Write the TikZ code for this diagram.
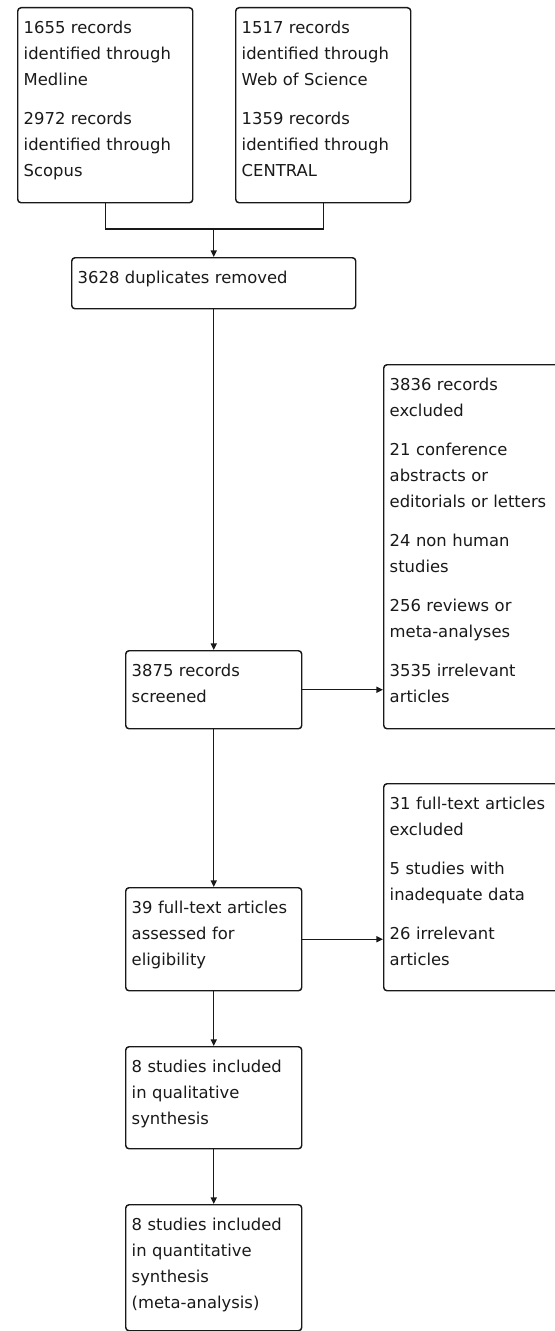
\documentclass[tikz,border=0pt]{standalone}
\usepackage{fontspec}
\setmainfont{DejaVu Sans}
\usepackage{tikz}
\usetikzlibrary{arrows.meta,calc}
\tikzset{
  prismabox/.style={draw=black!90, line width=1.1pt, rounded corners=2.5pt, anchor=north west,
    inner xsep=4.5pt, inner ysep=0pt, align=left, text=black!90, text width=123pt,
    text height=19.5pt, font=\fontsize{12.3pt}{19.5pt}\selectfont},
  flow/.style={draw=black!90, line width=1.1pt},
  flowarrow/.style={flow, -{Triangle[length=5pt,width=4.5pt]}}
}
\newcommand{\gap}{\\[9.75pt]}

\begin{document}
\begin{tikzpicture}[x=0.75pt,y=-0.75pt]
\clip (0,0) rectangle (555,1331);
\node[prismabox, text width=122.25pt, text depth=126.75pt] (medline) at (17,7) {1655 records\\identified through\\Medline\gap 2972 records\\identified through\\Scopus};
\node[prismabox, text width=122.25pt, text depth=126.75pt] (wos) at (235,7) {1517 records\\identified through\\Web of Science\gap 1359 records\\identified through\\CENTRAL};
\node[prismabox, text width=204pt, text depth=18.75pt] (dupl) at (71,257) {3628 duplicates removed};
\node[prismabox, text depth=39pt] (screened) at (125,650) {3875 records\\screened};
\node[prismabox, text depth=253.5pt] (excl) at (383,364) {3836 records\\excluded\gap 21 conference\\abstracts or\\editorials or letters\gap 24 non human\\studies\gap 256 reviews or\\meta-analyses\gap 3535 irrelevant\\articles};
\node[prismabox, text depth=57.75pt] (fulltext) at (125,887) {39 full-text articles\\assessed for\\eligibility};
\node[prismabox, text depth=135.75pt] (ftexcl) at (383,783) {31 full-text articles\\excluded\gap 5 studies with\\inadequate data\gap 26 irrelevant\\articles};
\node[prismabox, text depth=57pt] (qual) at (125,1046) {8 studies included\\in qualitative\\synthesis};
\node[prismabox, text depth=75pt] (quant) at (125,1204) {8 studies included\\in quantitative\\synthesis\\(meta-analysis)};

\coordinate (join) at ($(dupl.north)+(0,-28)$);
\draw[flow] (medline.south) |- (join) -| (wos.south);
\draw[flowarrow] (join) -- (dupl.north);
\draw[flowarrow] (dupl.south) -- (screened.north);
\draw[flowarrow] (screened.east) -- (screened.east -| excl.west);
\draw[flowarrow] (screened.south) -- (fulltext.north);
\draw[flowarrow] (fulltext.east) -- (fulltext.east -| ftexcl.west);
\draw[flowarrow] (fulltext.south) -- (qual.north);
\draw[flowarrow] (qual.south) -- (quant.north);
\end{tikzpicture}
\end{document}
